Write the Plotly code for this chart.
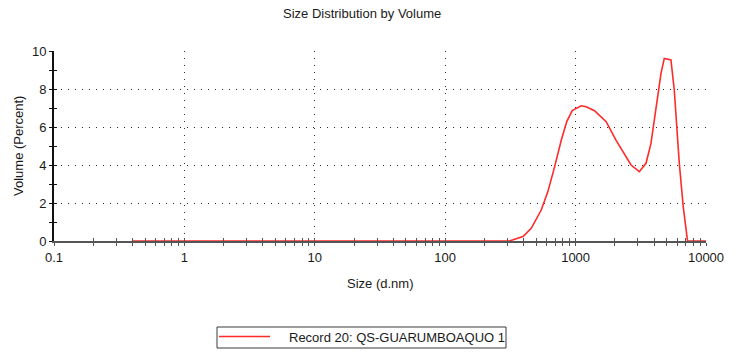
import plotly.graph_objects as go

# Size distribution (by volume) for one DLS record
record_name = "Record 20: QS-GUARUMBOAQUO 1"
size_nm = [0.4, 310, 395, 457, 545, 613, 690, 776, 857, 942, 1104, 1205, 1396,
           1715, 2045, 2366, 2662, 3082, 3467, 3785, 4137, 4518, 4786, 5384,
           5710, 6240, 6692, 7218, 10000]
volume_pct = [0, 0, 0.23, 0.67, 1.63, 2.6, 3.9, 5.3, 6.3, 6.86, 7.12, 7.07, 6.86,
              6.28, 5.3, 4.6, 4.0, 3.65, 4.09, 5.14, 7.07, 8.82, 9.61, 9.53,
              7.95, 4.09, 1.8, 0, 0]
x_tick_vals = [0.1, 1, 10, 100, 1000, 10000]
x_tick_text = ["0.1", "1", "10", "100", "1000", "10000"]

W, H = 736, 352
ML, MR, MT, MB = 54, 30, 51, 111
PW, PH = W - ML - MR, H - MT - MB

FONT = "Arial, Liberation Sans, Helvetica, sans-serif"
TXT = "#1a1a1a"
RED = "#ff2a2a"


def px(x):
    return (x - ML) / PW


def py(y):
    return (H - MB - y) / PH


fig = go.Figure()
fig.add_trace(go.Scatter(
    x=size_nm, y=volume_pct, mode="lines", name=record_name,
    line=dict(color=RED, width=1.6), showlegend=False,
    hoverinfo="x+y",
))
# empty trace that carries the inner-tick overlay axes
fig.add_trace(go.Scatter(x=[0.1, 10000], y=[None, None], xaxis="x2", yaxis="y2",
                         mode="lines", showlegend=False, hoverinfo="skip"))

grid = dict(showgrid=True, gridcolor="#2a2a2a", gridwidth=1, griddash="1px,6px")

fig.update_layout(
    width=W, height=H,
    margin=dict(l=ML, r=MR, t=MT, b=MB, pad=0),
    paper_bgcolor="white", plot_bgcolor="white",
    font=dict(family=FONT, size=13, color=TXT),
    showlegend=False,
    xaxis=dict(
        type="log", range=[-1, 4], tickmode="array",
        tickvals=x_tick_vals, ticktext=x_tick_text,
        showline=True, linecolor="#555555", linewidth=2, layer="below traces",
        ticks="outside", ticklen=3, tickwidth=1, tickcolor="#555555",
        minor=dict(ticks="outside", ticklen=3, tickwidth=1, tickcolor="#555555",
                   dtick="D1", showgrid=False),
        zeroline=False, tickfont=dict(size=13, color=TXT), **grid,
    ),
    yaxis=dict(
        range=[0, 10], dtick=2,
        showline=True, linecolor="#111111", linewidth=2, layer="below traces",
        ticks="outside", ticklen=3, tickwidth=1, tickcolor="#111111",
        minor=dict(ticks="outside", ticklen=3, tickwidth=1, tickcolor="#111111",
                   dtick=1, showgrid=False),
        zeroline=False, tickfont=dict(size=13, color=TXT), **grid,
    ),
    xaxis2=dict(
        type="log", range=[-1, 4], dtick=1, overlaying="x", anchor="y2", side="bottom",
        showticklabels=False, showgrid=False, showline=False, zeroline=False,
        ticks="inside", ticklen=3, tickwidth=1, tickcolor="#555555",
        minor=dict(ticks="inside", ticklen=3, tickwidth=1, tickcolor="#555555",
                   dtick="D1", showgrid=False),
    ),
    yaxis2=dict(
        range=[0, 10], dtick=2, overlaying="y", anchor="x2", side="left",
        showticklabels=False, showgrid=False, showline=False, zeroline=False,
        ticks="inside", ticklen=3, tickwidth=1, tickcolor="#111111",
        minor=dict(ticks="inside", ticklen=3, tickwidth=1, tickcolor="#111111",
                   dtick=1, showgrid=False),
    ),
)

# chart title and axis titles
fig.add_annotation(text="Size Distribution by Volume", xref="paper", yref="paper",
                   x=px(362), y=py(13), showarrow=False, xanchor="center",
                   yanchor="middle", font=dict(size=13, color=TXT))
fig.add_annotation(text="Size (d.nm)", xref="paper", yref="paper",
                   x=px(380), y=py(283), showarrow=False, xanchor="center",
                   yanchor="middle", font=dict(size=13, color=TXT))
fig.add_annotation(text="Volume (Percent)", xref="paper", yref="paper",
                   x=px(18), y=py(146), showarrow=False, textangle=-90,
                   xanchor="center", yanchor="middle", font=dict(size=13, color=TXT))

# boxed legend below the plot
fig.add_shape(type="rect", xref="paper", yref="paper",
              x0=px(217), x1=px(506), y0=py(327), y1=py(348),
              line=dict(color="#3a3a3a", width=1), fillcolor="white")
fig.add_shape(type="line", xref="paper", yref="paper",
              x0=px(219), x1=px(270), y0=py(336.5), y1=py(336.5),
              line=dict(color=RED, width=1.5))
fig.add_annotation(text=record_name, xref="paper", yref="paper",
                   x=px(287), y=py(337), showarrow=False, xanchor="left",
                   yanchor="middle", font=dict(size=13, color=TXT))

fig.write_html("out.html")
